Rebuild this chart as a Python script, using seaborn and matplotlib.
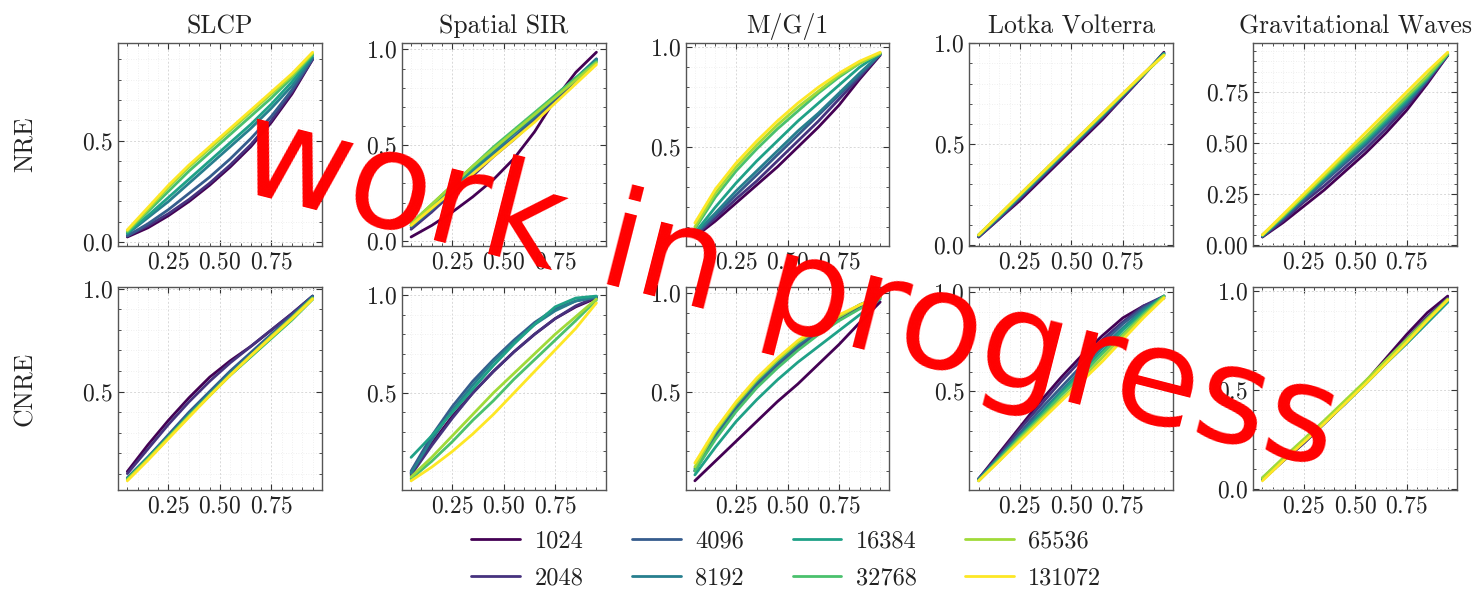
import numpy as np
import pandas as pd
import matplotlib
matplotlib.use("Agg")
import matplotlib.pyplot as plt
import seaborn as sns
from matplotlib.ticker import MultipleLocator, AutoMinorLocator

levels = [0.05, 0.15, 0.25, 0.35, 0.45, 0.55, 0.65, 0.75, 0.85, 0.95]
sizes = [1024, 2048, 4096, 8192, 16384, 32768, 65536, 131072]
tasks = ["SLCP", "Spatial SIR", "M/G/1", "Lotka Volterra", "Gravitational Waves"]
methods = ["NRE", "CNRE"]

# ---- NRE row (one list per simulation budget, 1024 ... 131072) ----
slcp_nre = [
    [0.025, 0.07, 0.13, 0.20, 0.28, 0.37, 0.47, 0.59, 0.73, 0.90],
    [0.03, 0.08, 0.14, 0.21, 0.29, 0.38, 0.48, 0.60, 0.74, 0.90],
    [0.03, 0.09, 0.16, 0.24, 0.32, 0.41, 0.51, 0.62, 0.75, 0.905],
    [0.04, 0.12, 0.20, 0.29, 0.38, 0.47, 0.56, 0.66, 0.77, 0.91],
    [0.045, 0.13, 0.22, 0.31, 0.40, 0.49, 0.58, 0.68, 0.79, 0.92],
    [0.05, 0.15, 0.25, 0.35, 0.44, 0.53, 0.62, 0.71, 0.81, 0.925],
    [0.055, 0.16, 0.27, 0.37, 0.46, 0.55, 0.64, 0.73, 0.82, 0.93],
    [0.06, 0.17, 0.28, 0.38, 0.47, 0.56, 0.65, 0.74, 0.83, 0.935],
]
sir_nre = [
    [0.02, 0.08, 0.15, 0.23, 0.32, 0.43, 0.57, 0.74, 0.88, 0.985],
    [0.06, 0.15, 0.25, 0.34, 0.44, 0.53, 0.63, 0.73, 0.84, 0.95],
    [0.07, 0.16, 0.26, 0.35, 0.45, 0.54, 0.64, 0.74, 0.84, 0.945],
    [0.08, 0.17, 0.27, 0.37, 0.46, 0.56, 0.65, 0.75, 0.85, 0.95],
    [0.08, 0.18, 0.28, 0.38, 0.48, 0.57, 0.66, 0.76, 0.85, 0.94],
    [0.09, 0.19, 0.29, 0.39, 0.49, 0.58, 0.67, 0.76, 0.85, 0.935],
    [0.09, 0.19, 0.29, 0.39, 0.48, 0.57, 0.66, 0.75, 0.84, 0.93],
    [0.08, 0.17, 0.26, 0.35, 0.44, 0.53, 0.62, 0.72, 0.82, 0.92],
]
mg1_nre = [
    [0.05, 0.13, 0.22, 0.31, 0.40, 0.50, 0.60, 0.71, 0.84, 0.96],
    [0.055, 0.145, 0.24, 0.33, 0.43, 0.53, 0.63, 0.74, 0.85, 0.965],
    [0.06, 0.16, 0.26, 0.36, 0.46, 0.56, 0.66, 0.76, 0.86, 0.965],
    [0.065, 0.17, 0.28, 0.38, 0.48, 0.58, 0.67, 0.77, 0.87, 0.965],
    [0.07, 0.20, 0.32, 0.43, 0.53, 0.63, 0.72, 0.81, 0.90, 0.97],
    [0.09, 0.25, 0.38, 0.49, 0.59, 0.68, 0.77, 0.85, 0.92, 0.97],
    [0.10, 0.27, 0.40, 0.51, 0.61, 0.70, 0.78, 0.86, 0.92, 0.97],
    [0.12, 0.29, 0.42, 0.53, 0.63, 0.72, 0.80, 0.87, 0.93, 0.975],
]
lv_nre = [
    [0.04, 0.13, 0.22, 0.32, 0.42, 0.52, 0.62, 0.73, 0.84, 0.955],
    [0.04, 0.13, 0.23, 0.33, 0.43, 0.53, 0.63, 0.73, 0.84, 0.95],
    [0.045, 0.14, 0.235, 0.335, 0.435, 0.535, 0.635, 0.74, 0.845, 0.95],
    [0.045, 0.14, 0.24, 0.34, 0.44, 0.54, 0.64, 0.745, 0.845, 0.95],
    [0.05, 0.145, 0.245, 0.345, 0.445, 0.545, 0.645, 0.745, 0.845, 0.945],
    [0.05, 0.145, 0.245, 0.345, 0.445, 0.545, 0.645, 0.745, 0.845, 0.945],
    [0.05, 0.15, 0.25, 0.35, 0.45, 0.55, 0.65, 0.75, 0.845, 0.94],
    [0.05, 0.15, 0.25, 0.35, 0.45, 0.55, 0.65, 0.75, 0.85, 0.94],
]
gw_nre = [
    [0.04, 0.11, 0.19, 0.27, 0.36, 0.45, 0.55, 0.66, 0.79, 0.93],
    [0.04, 0.12, 0.21, 0.29, 0.38, 0.47, 0.57, 0.68, 0.80, 0.93],
    [0.045, 0.13, 0.22, 0.31, 0.40, 0.49, 0.59, 0.69, 0.81, 0.935],
    [0.045, 0.135, 0.23, 0.32, 0.41, 0.50, 0.60, 0.70, 0.81, 0.935],
    [0.045, 0.14, 0.235, 0.33, 0.42, 0.51, 0.61, 0.71, 0.82, 0.935],
    [0.05, 0.14, 0.24, 0.335, 0.43, 0.52, 0.62, 0.72, 0.82, 0.935],
    [0.05, 0.145, 0.24, 0.34, 0.44, 0.53, 0.63, 0.73, 0.83, 0.94],
    [0.05, 0.15, 0.25, 0.35, 0.45, 0.55, 0.65, 0.75, 0.85, 0.945],
]

# ---- CNRE row ----
slcp_cnre = [
    [0.11, 0.24, 0.36, 0.47, 0.57, 0.65, 0.72, 0.80, 0.88, 0.965],
    [0.10, 0.22, 0.34, 0.45, 0.55, 0.64, 0.72, 0.80, 0.88, 0.965],
    [0.08, 0.18, 0.29, 0.40, 0.50, 0.60, 0.69, 0.78, 0.87, 0.965],
    [0.075, 0.18, 0.28, 0.39, 0.49, 0.59, 0.68, 0.77, 0.86, 0.96],
    [0.075, 0.175, 0.28, 0.385, 0.485, 0.58, 0.67, 0.76, 0.85, 0.95],
    [0.07, 0.17, 0.275, 0.38, 0.48, 0.58, 0.67, 0.76, 0.85, 0.95],
    [0.07, 0.17, 0.275, 0.38, 0.48, 0.58, 0.675, 0.77, 0.86, 0.955],
    [0.065, 0.165, 0.27, 0.375, 0.48, 0.58, 0.675, 0.765, 0.855, 0.95],
]
sir_cnre = [
    [0.09, 0.24, 0.38, 0.50, 0.61, 0.71, 0.80, 0.88, 0.94, 0.985],
    [0.08, 0.23, 0.37, 0.50, 0.61, 0.71, 0.80, 0.88, 0.945, 0.99],
    [0.10, 0.28, 0.43, 0.56, 0.67, 0.77, 0.86, 0.93, 0.97, 0.99],
    [0.09, 0.26, 0.41, 0.54, 0.66, 0.76, 0.85, 0.92, 0.97, 0.99],
    [0.17, 0.28, 0.40, 0.52, 0.64, 0.75, 0.85, 0.94, 0.985, 0.995],
    [0.06, 0.15, 0.25, 0.36, 0.46, 0.57, 0.67, 0.77, 0.87, 0.975],
    [0.07, 0.17, 0.28, 0.39, 0.50, 0.60, 0.70, 0.80, 0.89, 0.98],
    [0.05, 0.12, 0.20, 0.29, 0.39, 0.50, 0.61, 0.72, 0.83, 0.96],
]
mg1_cnre = [
    [0.05, 0.15, 0.25, 0.35, 0.45, 0.54, 0.64, 0.74, 0.85, 0.955],
    [0.10, 0.27, 0.41, 0.53, 0.63, 0.72, 0.80, 0.87, 0.93, 0.98],
    [0.10, 0.28, 0.42, 0.54, 0.64, 0.73, 0.81, 0.88, 0.94, 0.985],
    [0.11, 0.29, 0.43, 0.55, 0.65, 0.74, 0.82, 0.88, 0.94, 0.985],
    [0.08, 0.22, 0.35, 0.46, 0.56, 0.65, 0.73, 0.81, 0.89, 0.97],
    [0.10, 0.26, 0.40, 0.52, 0.62, 0.71, 0.79, 0.86, 0.92, 0.975],
    [0.12, 0.30, 0.44, 0.56, 0.66, 0.75, 0.82, 0.88, 0.94, 0.98],
    [0.14, 0.31, 0.45, 0.57, 0.67, 0.76, 0.83, 0.89, 0.94, 0.985],
]
lv_cnre = [
    [0.06, 0.19, 0.32, 0.45, 0.57, 0.68, 0.78, 0.87, 0.93, 0.97],
    [0.06, 0.18, 0.31, 0.43, 0.55, 0.66, 0.76, 0.85, 0.93, 0.98],
    [0.06, 0.17, 0.29, 0.41, 0.52, 0.63, 0.74, 0.84, 0.92, 0.98],
    [0.055, 0.17, 0.28, 0.39, 0.50, 0.61, 0.72, 0.82, 0.91, 0.98],
    [0.055, 0.16, 0.27, 0.38, 0.49, 0.60, 0.70, 0.81, 0.90, 0.98],
    [0.05, 0.16, 0.27, 0.37, 0.48, 0.58, 0.69, 0.79, 0.89, 0.98],
    [0.05, 0.15, 0.26, 0.36, 0.46, 0.56, 0.67, 0.78, 0.88, 0.975],
    [0.05, 0.15, 0.25, 0.35, 0.45, 0.55, 0.65, 0.76, 0.87, 0.97],
]
gw_cnre = [
    [0.045, 0.14, 0.23, 0.33, 0.43, 0.54, 0.66, 0.78, 0.89, 0.975],
    [0.045, 0.14, 0.23, 0.33, 0.43, 0.54, 0.65, 0.76, 0.87, 0.965],
    [0.05, 0.145, 0.235, 0.33, 0.43, 0.535, 0.645, 0.75, 0.855, 0.955],
    [0.05, 0.15, 0.24, 0.335, 0.43, 0.53, 0.635, 0.735, 0.84, 0.945],
    [0.05, 0.15, 0.24, 0.335, 0.43, 0.53, 0.635, 0.735, 0.84, 0.945],
    [0.055, 0.15, 0.245, 0.34, 0.44, 0.54, 0.645, 0.75, 0.855, 0.955],
    [0.055, 0.155, 0.25, 0.345, 0.445, 0.545, 0.65, 0.755, 0.86, 0.96],
    [0.04, 0.14, 0.235, 0.33, 0.43, 0.53, 0.635, 0.74, 0.85, 0.955],
]

nre_row = [slcp_nre, sir_nre, mg1_nre, lv_nre, gw_nre]
cnre_row = [slcp_cnre, sir_cnre, mg1_cnre, lv_cnre, gw_cnre]
ytick_steps = {"NRE": [0.5, 0.5, 0.5, 0.5, 0.25], "CNRE": [0.5, 0.5, 0.5, 0.5, 0.5]}

# ---- long table ----
records = []
for method, row in zip(methods, [nre_row, cnre_row]):
    for task, panel in zip(tasks, row):
        for size, curve in zip(sizes, panel):
            for lv, cov in zip(levels, curve):
                records.append((method, task, str(size), lv, cov))
df = pd.DataFrame(records, columns=["method", "task", "size", "level", "coverage"])

# ---- style ----
sns.set_theme(style="ticks")
plt.rcParams["font.family"] = ["cmr10", "DejaVu Serif"]
plt.rcParams["mathtext.fontset"] = "cm"
plt.rcParams["axes.formatter.use_mathtext"] = True
plt.rcParams["axes.unicode_minus"] = False

palette = [tuple(c) for c in plt.cm.viridis(np.linspace(0, 1, len(sizes)))]
hue_order = [str(s) for s in sizes]
text_col = "#222222"

fig, axes = plt.subplots(2, 5, figsize=(14.81, 5.89), dpi=100)
fig.subplots_adjust(left=0.0797, right=0.9838, top=0.927, bottom=0.168,
                    wspace=0.392, hspace=0.2)

for i, method in enumerate(methods):
    for j, task in enumerate(tasks):
        ax = axes[i, j]
        sub = df[(df.method == method) & (df.task == task)]
        sns.lineplot(data=sub, x="level", y="coverage", hue="size",
                     hue_order=hue_order, palette=palette, linewidth=2.0,
                     legend=(i == 0 and j == 0), ax=ax)
        ax.set_xlabel("")
        ax.set_ylabel("")
        ax.xaxis.set_major_locator(MultipleLocator(0.25))
        ax.yaxis.set_major_locator(MultipleLocator(ytick_steps[method][j]))
        ax.xaxis.set_minor_locator(AutoMinorLocator())
        ax.yaxis.set_minor_locator(AutoMinorLocator())
        ax.tick_params(which="both", direction="in", top=True, right=True,
                       labelsize=17, labelcolor=text_col, colors="#333333")
        ax.tick_params(which="major", length=4, width=0.8)
        ax.tick_params(which="minor", length=2, width=0.6)
        ax.grid(True, which="major", color="#d8d8d8", linewidth=0.7,
                linestyle=(0, (2, 2)))
        ax.grid(True, which="minor", color="#ebebeb", linewidth=0.6,
                linestyle=(0, (1, 2)))
        ax.set_axisbelow(True)
        for sp in ax.spines.values():
            sp.set_linewidth(1.0)
            sp.set_color("#555555")
        if i == 0:
            ax.set_title(task, fontsize=18.5, color=text_col, pad=7)

for i, method in enumerate(methods):
    bb = axes[i, 0].get_position()
    fig.text(25 / 1481, (bb.y0 + bb.y1) / 2, method, rotation=90,
             ha="center", va="center", fontsize=18.5, color=text_col)

leg_ax = axes[0, 0]
handles, labels = leg_ax.get_legend_handles_labels()
leg_ax.get_legend().remove()
leg = fig.legend(handles, labels, ncol=4, loc="center",
                 bbox_to_anchor=(0.5310, 0.049), frameon=False, fontsize=17.5,
                 handlelength=2.0, handletextpad=0.6, columnspacing=2.0,
                 labelspacing=0.6)
for t in leg.get_texts():
    t.set_color(text_col)

fig.text(0.5328, 0.5042, "work in progress", fontsize=98, color="red",
         rotation=-14.3, ha="center", va="center", family="DejaVu Sans",
         zorder=10)

fig.savefig("out.png", dpi=100)
